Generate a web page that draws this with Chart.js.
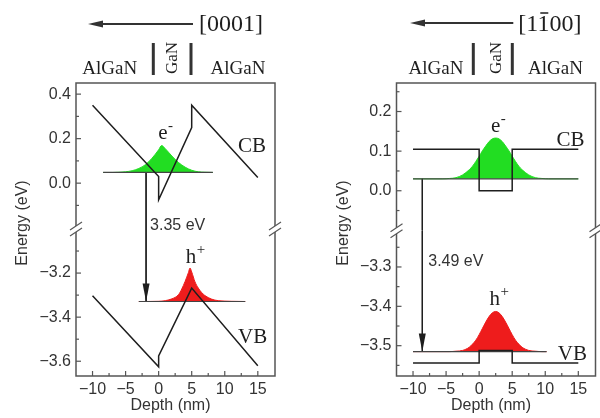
<!DOCTYPE html>
<html>
<head>
<meta charset="utf-8">
<title>Band profiles</title>
<script src="https://cdn.jsdelivr.net/npm/chart.js@4/dist/chart.umd.min.js"></script>
<style>
  html, body { margin: 0; padding: 0; background: #fff; }
  .row { display: flex; width: 600px; height: 418px; }
  canvas { display: block; }
</style>
</head>
<body>
<div class="row">
  <canvas id="polar" width="300" height="418"></canvas>
  <canvas id="nonpolar" width="300" height="418"></canvas>
</div>
<script>
// depth axis, same for both panels (nm)
const depthTicks = [-10, -5, 0, 5, 10, 15];
const depthMinor = [-7.5, -2.5, 2.5, 7.5, 12.5];

// ---- left panel: [0001] (polar) well ----
const polarTopTicks = [0.0, 0.2, 0.4];
const polarTopMinor = [-0.1, 0.1, 0.3];
const polarBotTicks = [-3.6, -3.4, -3.2];
const polarBotMinor = [-3.5, -3.3, -3.1];
const polarTopRange = [-0.206, 0.45];
const polarBotRange = [-3.667, -3.0];

const polarCbX = [-10, 0, 0, 5, 5, 15];
const polarCbY = [0.35, 0.03, -0.075, 0.25, 0.35, 0.025];
const polarVbX = [-10, 0, 0, 5, 15];
const polarVbY = [-3.303, -3.625, -3.576, -3.268, -3.62];

const polarElecX = [-8.4, -7, -6, -5, -4, -3, -2, -1, 0, 0.45, 1, 2, 3, 4, 5, 6, 7, 8.2];
const polarElecY = [0.048, 0.048, 0.049, 0.051, 0.056, 0.066, 0.083, 0.112, 0.150, 0.169, 0.155, 0.122, 0.093, 0.072, 0.058, 0.051, 0.049, 0.048];
const polarElecLevel = 0.048;
const polarElecSpan = [-8.4, 8.2];

const polarHoleX = [-3, 0, 1, 2, 3, 3.5, 4, 4.5, 4.75, 5, 5.5, 6, 6.5, 7, 8, 9, 13.1];
const polarHoleY = [-3.329, -3.328, -3.325, -3.317, -3.298, -3.272, -3.238, -3.198, -3.177, -3.195, -3.240, -3.268, -3.288, -3.302, -3.318, -3.325, -3.329];
const polarHoleLevel = -3.329;
const polarHoleSpan = [-3.0, 13.1];
const polarGapX = -1.9;

// ---- right panel: [1-100] (non-polar) well ----
const nonpolarTopTicks = [0.0, 0.1, 0.2];
const nonpolarTopMinor = [-0.05, 0.05, 0.15, 0.25];
const nonpolarBotTicks = [-3.5, -3.4, -3.3];
const nonpolarBotMinor = [-3.55, -3.45, -3.35, -3.25];
const nonpolarTopRange = [-0.101, 0.272];
const nonpolarBotRange = [-3.577, -3.208];

const nonpolarCbX = [-10, 0, 0, 5, 5, 15];
const nonpolarCbY = [0.105, 0.105, 0.0, 0.0, 0.105, 0.105];
const nonpolarVbX = [-10, 0, 0, 5, 5, 15];
const nonpolarVbY = [-3.544, -3.544, -3.512, -3.512, -3.544, -3.544];

const nonpolarElecX = [-10, -5.5, -4.5, -3.5, -2.5, -1.5, -1, -0.5, 0, 0.5, 1, 1.5, 2, 2.5, 3, 3.5, 4, 4.5, 5, 5.5, 6, 6.5, 7.5, 8.5, 9.5, 10.5, 15];
const nonpolarElecY = [0.030, 0.030, 0.031, 0.033, 0.040, 0.053, 0.062, 0.074, 0.087, 0.101, 0.113, 0.124, 0.131, 0.133, 0.131, 0.124, 0.113, 0.101, 0.087, 0.074, 0.062, 0.053, 0.040, 0.033, 0.031, 0.030, 0.030];
const nonpolarElecLevel = 0.03;
const nonpolarElecSpan = [-10, 15];

const nonpolarHoleX = [-10, -4.5, -3.5, -2.5, -1.5, -1, -0.5, 0, 0.5, 1, 1.5, 2, 2.5, 3, 3.5, 4, 4.5, 5, 5.5, 6, 6.5, 7.5, 8.5, 9.5, 10.2];
const nonpolarHoleY = [-3.515, -3.515, -3.514, -3.512, -3.504, -3.496, -3.486, -3.472, -3.456, -3.440, -3.426, -3.4165, -3.413, -3.4165, -3.426, -3.440, -3.456, -3.472, -3.486, -3.496, -3.504, -3.512, -3.514, -3.515, -3.515];
const nonpolarHoleLevel = -3.515;
const nonpolarHoleSpan = [-10, 10.2];
const nonpolarGapX = -8.6;

const SERIF = '"Liberation Serif", "Times New Roman", serif';
const SANS = '"Liberation Sans", Arial, sans-serif';
const INK = '#1e1e1e';
const LABEL = '#333';
const FRAME = '#555';
const GREEN = '#22dd22';
const RED = '#ee1c1c';

function pts(xs, ys) {
    return xs.map((x, i) => ({x: x, y: ys[i]}));
}
function minus(s) {
    return String(s).replace('-', '\u2212');
}

// frame, inward ticks, axis breaks, arrowheads and all the annotation text
function bandNotes(p) {
    return {
        id: 'bandNotes',
        afterDraw(chart) {
            const ctx = chart.ctx;
            const {left, right, top, bottom} = chart.chartArea;
            const sx = chart.scales.x, st = chart.scales.yTop, sb = chart.scales.yBot;
            const seg = (x1, y1, x2, y2) => {
                ctx.beginPath(); ctx.moveTo(x1, y1); ctx.lineTo(x2, y2); ctx.stroke();
            };
            ctx.save();
            ctx.strokeStyle = FRAME;
            ctx.lineWidth = 1.5;
            ctx.strokeRect(left, top, right - left, bottom - top);

            ctx.lineWidth = 1.2;
            depthTicks.forEach(v => { const px = sx.getPixelForValue(v); seg(px, bottom, px, bottom - 5); });
            depthMinor.forEach(v => { const px = sx.getPixelForValue(v); seg(px, bottom, px, bottom - 3); });
            [[st, p.topTicks, 5], [st, p.topMinor, 3], [sb, p.botTicks, 5], [sb, p.botMinor, 3]].forEach(([s, vals, len]) => {
                vals.forEach(v => { const py = s.getPixelForValue(v); seg(left, py, left + len, py); });
            });

            // axis break "//" on both sides
            const yB = st.bottom;
            [left, right].forEach(bx => {
                ctx.fillStyle = '#fff';
                ctx.beginPath();
                ctx.moveTo(bx - 6, yB + 1); ctx.lineTo(bx + 6, yB - 7);
                ctx.lineTo(bx + 6, yB - 1); ctx.lineTo(bx - 6, yB + 7);
                ctx.closePath(); ctx.fill();
                seg(bx - 6, yB + 1, bx + 6, yB - 7);
                seg(bx - 6, yB + 7, bx + 6, yB - 1);
            });

            // arrowheads on the transition arrow
            ctx.fillStyle = INK;
            chart.data.datasets.forEach((ds, i) => {
                if (!ds.arrow) return;
                const el = chart.getDatasetMeta(i).data;
                const tip = el[el.length - 1];
                ctx.beginPath();
                ctx.moveTo(tip.x, tip.y);
                ctx.lineTo(tip.x - 3.5, tip.y - 18);
                ctx.lineTo(tip.x + 3.5, tip.y - 18);
                ctx.closePath(); ctx.fill();
            });

            // band / carrier labels
            p.notes.forEach(n => {
                const s = n.axis === 'yTop' ? st : sb;
                const px = sx.getPixelForValue(n.x), py = s.getPixelForValue(n.y);
                ctx.fillStyle = n.sans ? LABEL : INK;
                ctx.font = n.sans ? '16px ' + SANS : '21px ' + SERIF;
                ctx.textAlign = n.align || 'left';
                ctx.textBaseline = n.sans ? 'middle' : 'alphabetic';
                ctx.fillText(n.text, px, py);
                if (n.sup) {
                    const w = ctx.measureText(n.text).width;
                    ctx.font = '15px ' + SERIF;
                    ctx.textAlign = 'left';
                    ctx.fillText(n.sup, px + w / 2 + 0.5, py - 9);
                }
            });

            // growth direction + layer sequence on top
            const h = p.header;
            ctx.strokeStyle = '#333';
            ctx.fillStyle = '#333';
            ctx.lineWidth = 2;
            seg(h.arrow[0] + 10, h.arrowY, h.arrow[1], h.arrowY);
            ctx.beginPath();
            ctx.moveTo(h.arrow[0], h.arrowY);
            ctx.lineTo(h.arrow[0] + 15, h.arrowY - 3.5);
            ctx.lineTo(h.arrow[0] + 15, h.arrowY + 3.5);
            ctx.closePath(); ctx.fill();

            ctx.fillStyle = INK;
            ctx.font = '24px ' + SERIF;
            ctx.textAlign = 'left';
            ctx.textBaseline = 'alphabetic';
            ctx.fillText(h.dir, h.dirX, 31);
            if (h.bar != null) {
                const x0 = h.dirX + ctx.measureText(h.dir.slice(0, h.bar)).width;
                const w = ctx.measureText(h.dir[h.bar]).width;
                ctx.strokeStyle = INK;
                ctx.lineWidth = 1.5;
                seg(x0 + 2, 13, x0 + w - 2, 13);
            }
            ctx.font = '19px ' + SERIF;
            ctx.textAlign = 'center';
            h.layers.forEach(lx => ctx.fillText('AlGaN', lx, 74));
            ctx.strokeStyle = '#333';
            ctx.lineWidth = 3;
            h.bars.forEach(bx => seg(bx, 43, bx, 75));
            ctx.save();
            ctx.translate(h.gan, 58);
            ctx.rotate(-Math.PI / 2);
            ctx.font = '17px ' + SERIF;
            ctx.textBaseline = 'middle';
            ctx.fillText('GaN', 0, 0);
            ctx.restore();

            // axis titles
            ctx.font = '16px ' + SANS;
            ctx.fillStyle = LABEL;
            ctx.textAlign = 'center';
            ctx.textBaseline = 'middle';
            ctx.fillText('Depth (nm)', (left + right) / 2 - 5, 406);
            ctx.save();
            ctx.translate(left - 53, 223);
            ctx.rotate(-Math.PI / 2);
            ctx.fillText('Energy (eV)', 0, 0);
            ctx.restore();
            ctx.restore();
        }
    };
}

function makePanel(canvasId, p) {
    const axisFont = {family: SANS, size: 16};
    const line = (data, axis, extra) => Object.assign({
        data: data, yAxisID: axis, borderColor: INK, borderWidth: 1.5,
        pointRadius: 0, tension: 0, fill: false
    }, extra || {});

    // first dataset is drawn last (on top)
    const datasets = [
        line(pts(p.cbX, p.cbY), 'yTop'),
        line(pts(p.vbX, p.vbY), 'yBot'),
        line(pts(p.elecSpan, [p.elecLevel, p.elecLevel]), 'yTop', {borderWidth: 1.2, borderColor: '#444'}),
        line(pts(p.holeSpan, [p.holeLevel, p.holeLevel]), 'yBot', {borderWidth: 1.2, borderColor: '#444'}),
        line(pts([p.gapX, p.gapX], [p.elecLevel, p.topRange[0]]), 'yTop', {borderWidth: 1}),
        line(pts([p.gapX, p.gapX], [p.botRange[1], p.holeLevel]), 'yBot', {borderWidth: 1, arrow: true}),
        line(pts(p.elecX, p.elecY), 'yTop', {
            borderWidth: 1, borderColor: GREEN, backgroundColor: GREEN,
            fill: {value: p.elecLevel}, cubicInterpolationMode: 'monotone'
        }),
        line(pts(p.holeX, p.holeY), 'yBot', {
            borderWidth: 1, borderColor: RED, backgroundColor: RED,
            fill: {value: p.holeLevel}, cubicInterpolationMode: 'monotone'
        })
    ];

    const yAxis = (range, ticks, weight, stackWeight) => ({
        type: 'linear', position: 'left', stack: 'energy', stackWeight: stackWeight, weight: weight,
        min: range[0], max: range[1],
        afterBuildTicks: s => { s.ticks = ticks.map(v => ({value: v})); },
        afterFit: s => { s.width = p.axisWidth; },
        grid: {display: false, drawTicks: false},
        border: {display: false},
        ticks: {font: axisFont, color: LABEL, padding: 5, autoSkip: false,
                callback: v => minus(Number(v).toFixed(1))}
    });

    new Chart(document.getElementById(canvasId), {
        type: 'line',
        data: {datasets: datasets},
        options: {
            responsive: false,
            animation: false,
            layout: {padding: {left: 0, right: p.padRight, top: 83, bottom: 0}},
            plugins: {legend: {display: false}, tooltip: {enabled: false}},
            scales: {
                x: {
                    type: 'linear', position: 'bottom', min: -12.5, max: 17.6,
                    afterBuildTicks: s => { s.ticks = depthTicks.map(v => ({value: v})); },
                    afterFit: s => { s.height = 42; },
                    grid: {display: false, drawTicks: false},
                    border: {display: false},
                    ticks: {font: axisFont, color: LABEL, padding: 4, autoSkip: false, maxRotation: 0,
                            callback: v => minus(v)}
                },
                yTop: yAxis(p.topRange, p.topTicks, 2, p.weights[0]),
                yBot: yAxis(p.botRange, p.botTicks, 1, p.weights[1])
            }
        },
        plugins: [bandNotes(p)]
    });
}

makePanel('polar', {
    axisWidth: 76, padRight: 25, weights: [146, 147],
    topRange: polarTopRange, botRange: polarBotRange,
    topTicks: polarTopTicks, topMinor: polarTopMinor,
    botTicks: polarBotTicks, botMinor: polarBotMinor,
    cbX: polarCbX, cbY: polarCbY, vbX: polarVbX, vbY: polarVbY,
    elecX: polarElecX, elecY: polarElecY, elecLevel: polarElecLevel, elecSpan: polarElecSpan,
    holeX: polarHoleX, holeY: polarHoleY, holeLevel: polarHoleLevel, holeSpan: polarHoleSpan,
    gapX: polarGapX,
    notes: [
        {text: 'e', sup: '-', x: 0.65, y: 0.20, axis: 'yTop', align: 'center'},
        {text: 'CB', x: 12.0, y: 0.138, axis: 'yTop'},
        {text: '3.35 eV', x: -1.3, y: -0.19, axis: 'yTop', sans: true},
        {text: 'h', sup: '+', x: 4.9, y: -3.153, axis: 'yBot', align: 'center'},
        {text: 'VB', x: 12.0, y: -3.517, axis: 'yBot'}
    ],
    header: {arrow: [88, 193], arrowY: 24, dir: '[0001]', dirX: 199, bar: null,
             layers: [109.7, 238], bars: [153.3, 191], gan: 172.7}
});

makePanel('nonpolar', {
    axisWidth: 96.5, padRight: 4.5, weights: [148, 145.5],
    topRange: nonpolarTopRange, botRange: nonpolarBotRange,
    topTicks: nonpolarTopTicks, topMinor: nonpolarTopMinor,
    botTicks: nonpolarBotTicks, botMinor: nonpolarBotMinor,
    cbX: nonpolarCbX, cbY: nonpolarCbY, vbX: nonpolarVbX, vbY: nonpolarVbY,
    elecX: nonpolarElecX, elecY: nonpolarElecY, elecLevel: nonpolarElecLevel, elecSpan: nonpolarElecSpan,
    holeX: nonpolarHoleX, holeY: nonpolarHoleY, holeLevel: nonpolarHoleLevel, holeSpan: nonpolarHoleSpan,
    gapX: nonpolarGapX,
    notes: [
        {text: 'e', sup: '-', x: 2.5, y: 0.149, axis: 'yTop', align: 'center'},
        {text: 'CB', x: 11.7, y: 0.113, axis: 'yTop'},
        {text: '3.49 eV', x: -7.7, y: -3.287, axis: 'yBot', sans: true},
        {text: 'h', sup: '+', x: 2.35, y: -3.396, axis: 'yBot', align: 'center'},
        {text: 'VB', x: 11.9, y: -3.5355, axis: 'yBot'}
    ],
    header: {arrow: [110, 213.3], arrowY: 23, dir: '[1100]', dirX: 218.3, bar: 2,
             layers: [136, 255.5], bars: [173.3, 212.3], gan: 196.7}
});
</script>
</body>
</html>
